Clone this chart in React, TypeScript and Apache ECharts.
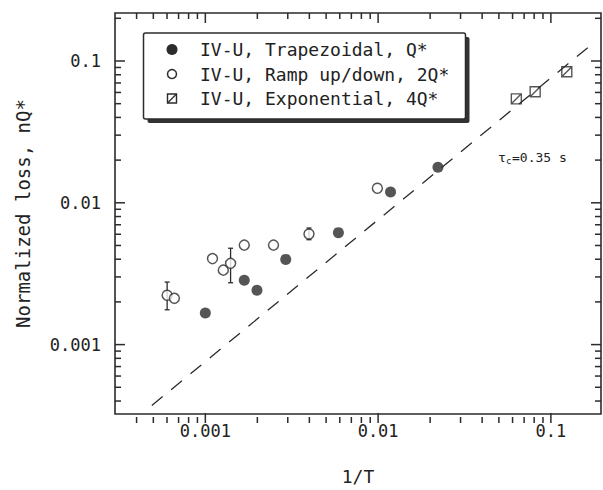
import React, { useEffect, useRef } from 'react';
import * as echarts from 'echarts';

const FONT = "'DejaVu Sans Mono', monospace";
const INK = '#2b2b2b';

// Data
const trapezoidalX = [0.001, 0.00168, 0.00199, 0.00292, 0.00589, 0.0118, 0.0222];
const trapezoidalY = [0.00167, 0.00284, 0.00242, 0.00399, 0.00616, 0.0119, 0.0178];
const rampX = [0.000601, 0.000662, 0.0011, 0.00127, 0.0014, 0.00168, 0.00248, 0.00398, 0.0099];
const rampY = [0.00223, 0.00212, 0.00404, 0.00335, 0.00374, 0.00503, 0.00503, 0.00603, 0.01267];
const rampErrX = [0.000601, 0.0014, 0.00398];
const rampErrLow = [0.00176, 0.00273, 0.00549];
const rampErrHigh = [0.00276, 0.00478, 0.00664];
const expX = [0.0631, 0.0811, 0.1236];
const expY = [0.0541, 0.0607, 0.084];
const fitX = [0.00049, 0.175];
const fitY = [0.000372, 0.133];

// Axis extents and tick positions
const xMin = 0.0003;
const xMax = 0.195;
const yMin = 0.000324;
const yMax = 0.218;
const xMajor = [0.001, 0.01, 0.1];
const xMinor = [
  0.0004, 0.0005, 0.0006, 0.0007, 0.0008, 0.0009,
  0.002, 0.003, 0.004, 0.005, 0.006, 0.007, 0.008, 0.009,
  0.02, 0.03, 0.04, 0.05, 0.06, 0.07, 0.08, 0.09,
];
const yMajor = [0.001, 0.01, 0.1];
const yMinor = [
  0.0004, 0.0005, 0.0006, 0.0007, 0.0008, 0.0009,
  0.002, 0.003, 0.004, 0.005, 0.006, 0.007, 0.008, 0.009,
  0.02, 0.03, 0.04, 0.05, 0.06, 0.07, 0.08, 0.09, 0.2,
];

const seriesNames = ['IV-U, Trapezoidal, Q*', 'IV-U, Ramp up/down, 2Q*', 'IV-U, Exponential, 4Q*'];
const annotation = { tau: 'τ', sub: 'c', rest: '=0.35 s' };

const zip = (a: number[], b: number[]) => a.map((v, i) => [v, b[i]]);

const W = 603;
const H = 490;
const GRID = { left: 115, right: 2, top: 13, bottom: 67 };

export default function App() {
  const ref = useRef<HTMLDivElement>(null);

  useEffect(() => {
    if (!ref.current) return;
    const chart = echarts.init(ref.current, null, { renderer: 'svg' });

    const fmt = (v: number) => String(Number(v.toPrecision(2)));

    const option: any = {
      animation: false,
      backgroundColor: '#fff',
      grid: {
        ...GRID,
        show: true,
        borderColor: INK,
        borderWidth: 1.6,
        backgroundColor: 'transparent',
      },
      xAxis: {
        type: 'log',
        min: xMin,
        max: xMax,
        name: '1/T',
        nameLocation: 'middle',
        nameGap: 53,
        nameTextStyle: { fontFamily: FONT, fontSize: 18, color: '#222' },
        axisLine: { show: false },
        axisTick: { show: false },
        splitLine: { show: false },
        axisLabel: {
          formatter: fmt,
          showMinLabel: false,
          showMaxLabel: false,
          margin: 8,
          fontFamily: FONT,
          fontSize: 17,
          color: '#222',
        },
      },
      yAxis: {
        type: 'log',
        min: yMin,
        max: yMax,
        name: 'Normalized loss, nQ*',
        nameLocation: 'middle',
        nameGap: 83,
        nameTextStyle: { fontFamily: FONT, fontSize: 19, color: '#222' },
        axisLine: { show: false },
        axisTick: { show: false },
        splitLine: { show: false },
        axisLabel: {
          formatter: fmt,
          showMinLabel: false,
          showMaxLabel: false,
          margin: 14,
          fontFamily: FONT,
          fontSize: 17,
          color: '#222',
        },
      },
      series: [
        {
          type: 'line',
          data: zip(fitX, fitY),
          showSymbol: false,
          symbol: 'none',
          silent: true,
          lineStyle: { color: INK, width: 1.3, type: [14, 11] },
        },
        {
          type: 'custom',
          silent: true,
          data: rampErrX.map((x, i) => [x, rampErrLow[i], rampErrHigh[i]]),
          encode: { x: 0, y: [1, 2] },
          renderItem: (_params: any, api: any) => {
            const x = api.value(0);
            const p1 = api.coord([x, api.value(1)]);
            const p2 = api.coord([x, api.value(2)]);
            const w = 2.5;
            const st = { stroke: INK, lineWidth: 1.3 };
            return {
              type: 'group',
              children: [
                { type: 'line', shape: { x1: p1[0], y1: p1[1], x2: p2[0], y2: p2[1] }, style: { ...st } },
                { type: 'line', shape: { x1: p1[0] - w, y1: p1[1], x2: p1[0] + w, y2: p1[1] }, style: { ...st } },
                { type: 'line', shape: { x1: p2[0] - w, y1: p2[1], x2: p2[0] + w, y2: p2[1] }, style: { ...st } },
              ],
            };
          },
        },
        {
          name: seriesNames[0],
          type: 'scatter',
          data: zip(trapezoidalX, trapezoidalY),
          symbol: 'circle',
          symbolSize: 11,
          itemStyle: { color: INK },
        },
        {
          name: seriesNames[1],
          type: 'scatter',
          data: zip(rampX, rampY),
          symbol: 'circle',
          symbolSize: 10,
          itemStyle: { color: '#fff', borderColor: INK, borderWidth: 1.5 },
        },
        {
          name: seriesNames[2],
          type: 'scatter',
          data: zip(expX, expY),
          symbol: 'path://M0,0H10V10H0ZM0,10L10,0',
          symbolSize: 10,
          itemStyle: { color: '#fff', borderColor: INK, borderWidth: 1.4 },
        },
      ],
    };

    chart.setOption(option);

    // Tick marks: positions along each axis come from the chart's own log scales
    const gTop = GRID.top;
    const gBottom = H - GRID.bottom;
    const gLeft = GRID.left;
    const gRight = W - GRID.right;
    const toPx = (x: number, y: number): number[] =>
      chart.convertToPixel({ gridIndex: 0 }, [x, y]) as number[];
    const tickStyle = { stroke: INK, lineWidth: 1.5 };
    const ticks: any[] = [];
    const addX = (vals: number[], len: number) => {
      vals.forEach((v) => {
        const px = toPx(v, 0.01)[0];
        if (!isFinite(px)) return;
        ticks.push({ type: 'line', silent: true, z: 20, shape: { x1: px, y1: gBottom, x2: px, y2: gBottom - len }, style: { ...tickStyle } });
        ticks.push({ type: 'line', silent: true, z: 20, shape: { x1: px, y1: gTop, x2: px, y2: gTop + len }, style: { ...tickStyle } });
      });
    };
    const addY = (vals: number[], len: number) => {
      vals.forEach((v) => {
        const py = toPx(0.01, v)[1];
        if (!isFinite(py)) return;
        ticks.push({ type: 'line', silent: true, z: 20, shape: { x1: gLeft, y1: py, x2: gLeft + len, y2: py }, style: { ...tickStyle } });
        ticks.push({ type: 'line', silent: true, z: 20, shape: { x1: gRight, y1: py, x2: gRight - len, y2: py }, style: { ...tickStyle } });
      });
    };
    addX(xMajor, 10);
    addX(xMinor, 6);
    addY(yMajor, 10);
    addY(yMinor, 6);

    const rowY = [49.5, 74, 98.5];
    const legend: any[] = [
      { type: 'rect', shape: { x: 147.5, y: 37, width: 322, height: 86, r: 2 }, style: { fill: '#333' }, z: 30 },
      { type: 'rect', shape: { x: 143.5, y: 33, width: 322, height: 86, r: 2 }, style: { fill: '#fff', stroke: INK, lineWidth: 1.5 }, z: 31 },
      { type: 'circle', shape: { cx: 172, cy: rowY[0], r: 5.5 }, style: { fill: INK }, z: 32 },
      { type: 'circle', shape: { cx: 172, cy: rowY[1], r: 4.5 }, style: { fill: '#fff', stroke: INK, lineWidth: 1.5 }, z: 32 },
      { type: 'rect', shape: { x: 167.5, y: rowY[2] - 4.5, width: 9, height: 9 }, style: { fill: '#fff', stroke: INK, lineWidth: 1.4 }, z: 32 },
      { type: 'line', shape: { x1: 167.5, y1: rowY[2] + 4.5, x2: 176.5, y2: rowY[2] - 4.5 }, style: { stroke: INK, lineWidth: 1.2 }, z: 32 },
      ...seriesNames.map((t, i) => ({
        type: 'text',
        x: 200,
        y: rowY[i],
        style: { text: t, fontFamily: FONT, fontSize: 18, fill: '#222', verticalAlign: 'middle' },
        z: 32,
      })),
      { type: 'text', x: 498, y: 157, style: { text: annotation.tau, fontFamily: FONT, fontSize: 13, fill: '#222', verticalAlign: 'middle' } },
      { type: 'text', x: 506, y: 161, style: { text: annotation.sub, fontFamily: FONT, fontSize: 9, fill: '#222', verticalAlign: 'middle' } },
      { type: 'text', x: 512, y: 157, style: { text: annotation.rest, fontFamily: FONT, fontSize: 13, fill: '#222', verticalAlign: 'middle' } },
    ];

    chart.setOption({ graphic: [...ticks, ...legend] });
    return () => chart.dispose();
  }, []);

  return (
    <div
      ref={ref}
      style={{ position: 'absolute', left: 0, top: 0, width: W, height: H, background: '#fff' }}
    />
  );
}
